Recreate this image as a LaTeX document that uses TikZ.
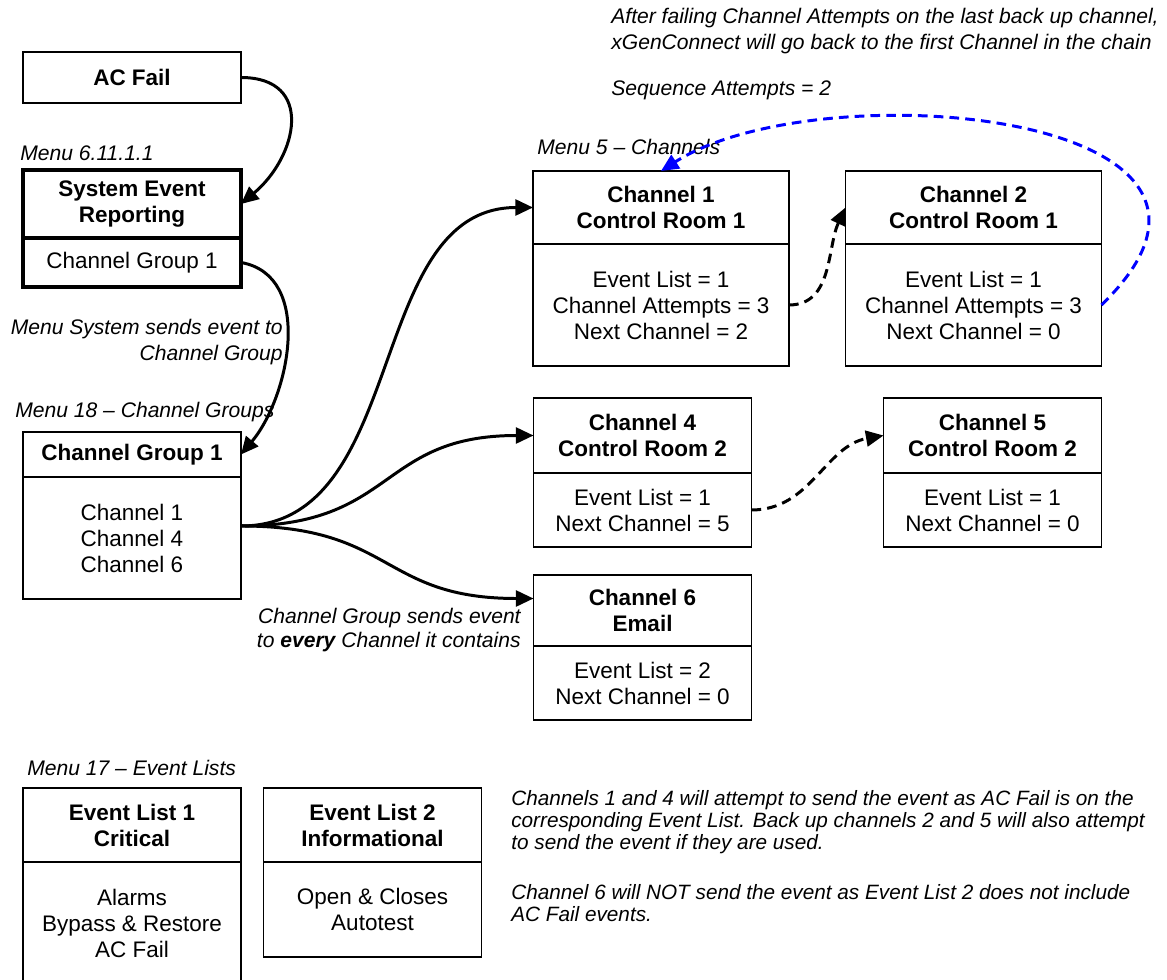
\documentclass[tikz,border=0pt]{standalone}
\usepackage{fontspec}
\setmainfont{Liberation Sans}
\usetikzlibrary{arrows.meta,positioning,calc}

\tikzset{
  box/.style={draw, line width=1.1pt, inner sep=0pt, outer sep=0pt, align=center,
    font=\fontsize{12.8}{14.8}\selectfont},
  head/.style={box, font=\fontsize{12.8}{14.8}\selectfont\bfseries},
  thickbox/.style={line width=2.6pt},
  note/.style={inner sep=0pt, font=\fontsize{12}{14.8}\selectfont\itshape},
  flow/.style={line width=1.7pt, -{Triangle[length=10pt,width=9pt]}},
  backup/.style={flow, dash pattern=on 5.5pt off 3.5pt},
}

\begin{document}
\begin{tikzpicture}[x=0.02cm,y=0.02cm]
  \useasboundingbox (0,0) rectangle (1167,-980);

  % left column
  \node[head, minimum width=4.36cm, minimum height=1.02cm] (acfail) at (132,-77.5) {AC Fail};
  \node[note, anchor=west] (menusix) at (20,-153) {Menu 6.11.1.1};
  \node[head, thickbox, minimum width=4.36cm, minimum height=1.36cm] (serh) at (132,-204) {System Event\\Reporting};
  \node[box, thickbox, minimum width=4.36cm, minimum height=0.98cm, below=0pt of serh] (serb) {Channel Group 1};
  \node[note, anchor=east, align=right] (menusends) at (283,-342.5) {Menu System sends event to\\Channel Group};
  \node[note, anchor=west] (menugroups) at (15,-412) {Menu 18 -- Channel Groups};
  \node[head, minimum width=4.36cm, minimum height=0.9cm] (cgh) at (132,-454.5) {Channel Group 1};
  \node[box, minimum width=4.36cm, minimum height=2.44cm, below=0pt of cgh] (cgb) {Channel 1\\Channel 4\\Channel 6};
  \coordinate (fan) at ($(cgb.east)+(0,12)$);
  \node[note, anchor=east, align=right, font=\fontsize{12}{13.6}\selectfont\itshape] (groupsends) at (521,-630)
    {Channel Group sends event\\to \textbf{every} Channel it contains};

  % channels
  \node[note, anchor=west] (menufive) at (537,-147) {Menu 5 -- Channels};
  \node[head, minimum width=5.12cm, minimum height=1.46cm] (chonh) at (661,-207.5) {Channel 1\\Control Room 1};
  \node[box, minimum width=5.12cm, minimum height=2.44cm, below=0pt of chonh] (chonb) {Event List = 1\\Channel Attempts = 3\\Next Channel = 2};
  \node[head, minimum width=5.12cm, minimum height=1.46cm] (chtwh) at (973.5,-207.5) {Channel 2\\Control Room 1};
  \node[box, minimum width=5.12cm, minimum height=2.44cm, below=0pt of chtwh] (chtwb) {Event List = 1\\Channel Attempts = 3\\Next Channel = 0};
  \node[head, minimum width=4.36cm, minimum height=1.5cm] (chfoh) at (642.5,-435.5) {Channel 4\\Control Room 2};
  \node[box, minimum width=4.36cm, minimum height=1.48cm, below=0pt of chfoh] (chfob) {Event List = 1\\Next Channel = 5};
  \node[head, minimum width=4.36cm, minimum height=1.5cm] (chfih) at (992.5,-435.5) {Channel 5\\Control Room 2};
  \node[box, minimum width=4.36cm, minimum height=1.48cm, below=0pt of chfih] (chfib) {Event List = 1\\Next Channel = 0};
  \node[head, minimum width=4.36cm, minimum height=1.42cm] (chsih) at (642.5,-610.5) {Channel 6\\Email};
  \node[box, minimum width=4.36cm, minimum height=1.48cm, below=0pt of chsih] (chsib) {Event List = 2\\Next Channel = 0};

  % event lists
  \node[note, anchor=west] (menuseventeen) at (27,-768) {Menu 17 -- Event Lists};
  \node[head, minimum width=4.36cm, minimum height=1.48cm] (elonh) at (132,-825) {Event List 1\\Critical};
  \node[box, minimum width=4.36cm, minimum height=2.44cm, below=0pt of elonh] (elonb) {Alarms\\Bypass \& Restore\\AC Fail};
  \node[head, minimum width=4.36cm, minimum height=1.48cm] (eltwh) at (372.5,-825) {Event List 2\\Informational};
  \node[box, minimum width=4.36cm, minimum height=1.9cm, below=0pt of eltwh] (eltwb) {Open \& Closes\\Autotest};

  % notes
  \node[note, anchor=west, align=left] (failnote) at (611,-31)
    {After failing Channel Attempts on the last back up channel,\\xGenConnect will go back to the first Channel in the chain};
  \node[note, anchor=west] (seqnote) at (611,-90) {Sequence Attempts = 2};
  \node[note, anchor=west, align=left, font=\fontsize{11.8}{12.5}\selectfont\itshape] (sendnote) at (511,-822)
    {Channels 1 and 4 will attempt to send the event as AC Fail is on the\\corresponding Event List. Back up channels 2 and 5 will also attempt\\to send the event if they are used.};
  \node[note, anchor=west, align=left, font=\fontsize{11.8}{12.5}\selectfont\itshape] (notsendnote) at (511,-903)
    {Channel 6 will NOT send the event as Event List 2 does not include\\AC Fail events.};

  % connectors
  \draw[flow] (acfail.east) to[out=0, in=40, looseness=1.5] (serh.east);
  \draw[flow] (serb.east) to[out=-10, in=50] (cgh.east);
  \draw[flow] (fan) to[out=0, in=180] (chonh.west);
  \draw[flow] (fan) to[out=0, in=180, looseness=1.3] (chfoh.west);
  \draw[flow] (fan) to[out=0, in=180, looseness=1.3] ($(chsih.west)+(0,12)$);
  \draw[backup] (chonb.east) to[out=0, in=-115] (chtwh.west);
  \draw[backup] (chfob.east) to[out=0, in=190] (chfih.west);
  \draw[backup, blue] (chtwb.east) .. controls +(199,193) and +(158,101) .. (chonh.north);
\end{tikzpicture}
\end{document}
